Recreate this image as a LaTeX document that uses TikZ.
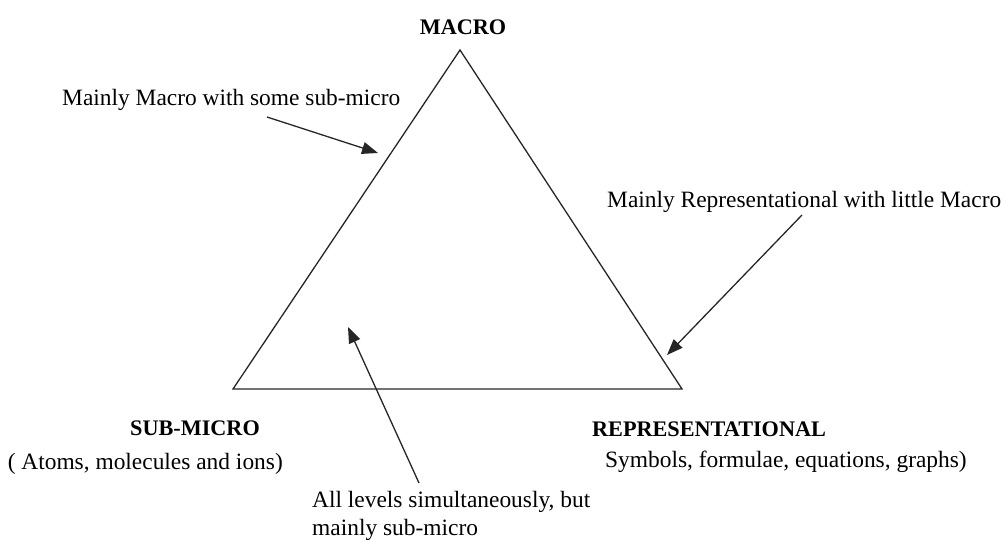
\documentclass[tikz,border=0pt]{standalone}
\usepackage{fontspec}
\setmainfont{Liberation Serif}
\usetikzlibrary{arrows.meta}

\tikzset{
  edge/.style={draw=black!85, line width=1.3bp, line join=miter},
  pointer/.style={draw=black!85, line width=1.3bp,
    -{Triangle[length=16bp, width=12bp]}},
  label/.style={inner sep=0pt, font=\fontsize{23.5}{28}\selectfont, text=black},
  level/.style={inner sep=0pt, font=\fontsize{22.3}{26}\selectfont\bfseries, text=black}
}

\begin{document}
\begin{tikzpicture}[x=1bp, y=-1bp]
  \useasboundingbox (0,0) rectangle (1006,542);

  % corners of the triangle
  \coordinate (top) at (460,50);
  \coordinate (left) at (233,389);
  \coordinate (right) at (682,389);
  \draw[edge] (top) -- (right) -- (left) -- cycle;

  % level names
  \node[level, anchor=base] (macro) at (463,35) {MACRO};
  \node[level, anchor=base west] (submicro) at (130,435) {SUB-MICRO};
  \node[level, anchor=base west] (repr) at (592,436) {REPRESENTATIONAL};
  \node[label, anchor=base east] (atoms) at (283,469) {( Atoms, molecules and ions)};
  \node[label, anchor=base west] (symbols) at (605,467) {Symbols, formulae, equations, graphs)};

  % annotations
  \node[label, anchor=base west] (mmacro) at (62,106) {Mainly Macro with some sub-micro};
  \node[label, anchor=base west] (mrepr) at (607,208) {Mainly Representational with little Macro};
  \node[label, anchor=base west, align=left] (alllev) at (312,535)
    {All levels simultaneously, but\\mainly sub-micro};

  % annotation pointers
  \coordinate (p1s) at (267,117);
  \coordinate (p1e) at (378,153);
  \coordinate (p2s) at (802,215);
  \coordinate (p2e) at (667,355);
  \coordinate (p3s) at (419,483);
  \coordinate (p3e) at (348,327);
  \draw[pointer] (p1s) -- (p1e);
  \draw[pointer] (p2s) -- (p2e);
  \draw[pointer] (p3s) -- (p3e);
\end{tikzpicture}
\end{document}
